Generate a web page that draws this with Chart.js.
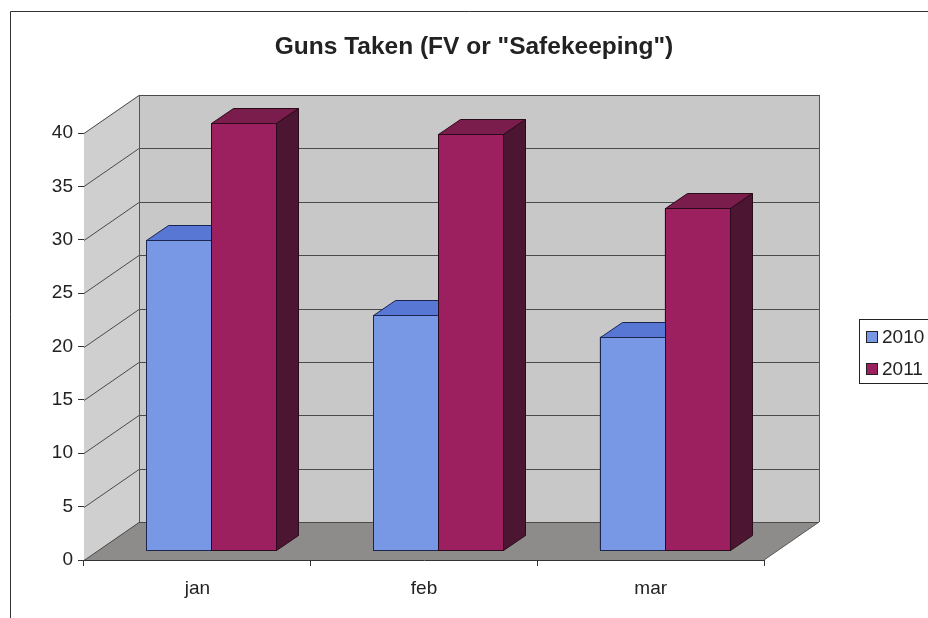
<!DOCTYPE html>
<html>
<head>
<meta charset="utf-8">
<script src="https://cdn.jsdelivr.net/npm/chart.js@4"></script>
<style>
    html, body { margin: 0; padding: 0; background: #fff; }
    #wrap { position: relative; width: 928px; height: 618px; }
</style>
</head>
<body>
<div id="wrap"><canvas id="chart" width="928" height="618"></canvas></div>
<script>
// Data
const months = ['jan', 'feb', 'mar'];
const series2010 = [29, 22, 20];
const series2011 = [40, 39, 32];
const seriesNames = ['2010', '2011'];
const yTicks = [0, 5, 10, 15, 20, 25, 30, 35, 40];
const chartTitle = 'Guns Taken (FV or "Safekeeping")';

// 3D look: wall depth and bar position inside it
const WALL = { dx: 55, dy: -38 };
const BAR_SHIFT = { dx: 14, dy: -10 };
const BAR_DEPTH = { dx: 22, dy: -15 };
const FONT = '"Liberation Sans", Arial, sans-serif';

const faces = [
    { front: '#7898e6', top: '#5877d4', side: '#3e58a8', edge: '#1c2450' },
    { front: '#9c1f5f', top: '#7a1c4c', side: '#4c1532', edge: '#2a0b1c' }
];

const walls3d = {
    id: 'walls3d',
    beforeDatasetsDraw(chart) {
        const { ctx, chartArea: a, scales: { y } } = chart;
        const { dx, dy } = WALL;
        ctx.save();
        // floor
        ctx.fillStyle = '#8e8c8b';
        ctx.beginPath();
        ctx.moveTo(a.left, a.bottom);
        ctx.lineTo(a.right, a.bottom);
        ctx.lineTo(a.right + dx, a.bottom + dy);
        ctx.lineTo(a.left + dx, a.bottom + dy);
        ctx.closePath();
        ctx.fill();
        // side wall
        ctx.fillStyle = '#d0cfcf';
        ctx.beginPath();
        ctx.moveTo(a.left, a.top);
        ctx.lineTo(a.left + dx, a.top + dy);
        ctx.lineTo(a.left + dx, a.bottom + dy);
        ctx.lineTo(a.left, a.bottom);
        ctx.closePath();
        ctx.fill();
        // back wall
        ctx.fillStyle = '#c9c8c8';
        ctx.fillRect(a.left + dx, a.top + dy, a.right - a.left, a.bottom - a.top);

        // gridlines on side and back wall
        ctx.strokeStyle = '#4a4a4a';
        ctx.lineWidth = 1;
        yTicks.forEach(v => {
            const py = Math.round(y.getPixelForValue(v)) + 0.5;
            ctx.beginPath();
            ctx.moveTo(a.left, py);
            ctx.lineTo(a.left + dx, py + dy);
            ctx.lineTo(a.right + dx, py + dy);
            ctx.stroke();
        });
        // wall edges
        ctx.strokeStyle = '#555';
        ctx.beginPath();
        ctx.moveTo(a.left + dx + 0.5, a.top + dy);
        ctx.lineTo(a.left + dx + 0.5, a.bottom + dy);
        ctx.moveTo(a.right + dx + 0.5, a.top + dy);
        ctx.lineTo(a.right + dx + 0.5, a.bottom + dy);
        ctx.moveTo(a.right, a.bottom);
        ctx.lineTo(a.right + dx, a.bottom + dy);
        ctx.stroke();
        ctx.restore();

        // the library's bar fronts sit a little inside the depth
        ctx.save();
        ctx.translate(BAR_SHIFT.dx, BAR_SHIFT.dy);
    },
    afterDatasetsDraw(chart) {
        // finish each bar as a box, series by series so 2011 covers 2010's side
        const { ctx } = chart;
        const { dx, dy } = BAR_DEPTH;
        ctx.lineWidth = 1;
        chart.data.datasets.forEach((ds, i) => {
            const f = faces[i];
            chart.getDatasetMeta(i).data.forEach(bar => {
                const { x, y, width, base } = bar.getProps(['x', 'y', 'width', 'base'], true);
                const l = Math.round(x - width / 2) + 0.5, r = Math.round(x + width / 2) + 0.5;
                const t = Math.round(y) + 0.5, b = Math.round(base) + 0.5;
                ctx.strokeStyle = f.edge;
                // front
                ctx.fillStyle = f.front;
                ctx.fillRect(l, t, r - l, b - t);
                ctx.strokeRect(l, t, r - l, b - t);
                // top face
                ctx.fillStyle = f.top;
                ctx.beginPath();
                ctx.moveTo(l, t);
                ctx.lineTo(l + dx, t + dy);
                ctx.lineTo(r + dx, t + dy);
                ctx.lineTo(r, t);
                ctx.closePath();
                ctx.fill();
                ctx.stroke();
                // side face
                ctx.fillStyle = f.side;
                ctx.beginPath();
                ctx.moveTo(r, t);
                ctx.lineTo(r + dx, t + dy);
                ctx.lineTo(r + dx, b + dy);
                ctx.lineTo(r, b);
                ctx.closePath();
                ctx.fill();
                ctx.stroke();
            });
        });
        ctx.restore();
    },
    afterDraw(chart) {
        const { ctx } = chart;
        ctx.save();
        // outer frame of the pasted chart
        ctx.strokeStyle = '#333';
        ctx.lineWidth = 1;
        ctx.beginPath();
        ctx.moveTo(10.5, 618);
        ctx.lineTo(10.5, 11.5);
        ctx.lineTo(928, 11.5);
        ctx.stroke();

        // title
        ctx.fillStyle = '#222';
        ctx.font = 'bold 24.5px ' + FONT;
        ctx.textAlign = 'center';
        ctx.textBaseline = 'middle';
        ctx.fillText(chartTitle, 474, 47);

        // legend
        ctx.strokeStyle = '#222';
        ctx.strokeRect(859.5, 319.5, 100, 64);
        ctx.font = '19px ' + FONT;
        ctx.textAlign = 'left';
        chart.data.datasets.forEach((ds, i) => {
            const cy = 337 + i * 32;
            ctx.fillStyle = faces[i].front;
            ctx.fillRect(866.5, cy - 5.5, 11, 11);
            ctx.strokeStyle = '#222';
            ctx.strokeRect(866.5, cy - 5.5, 11, 11);
            ctx.fillStyle = '#222';
            ctx.fillText(ds.label, 882, cy + 1);
        });
        ctx.restore();
    }
};

new Chart(document.getElementById('chart'), {
    type: 'bar',
    data: {
        labels: months,
        datasets: [
            { label: seriesNames[0], data: series2010, backgroundColor: faces[0].front, borderColor: faces[0].edge, borderWidth: 1 },
            { label: seriesNames[1], data: series2011, backgroundColor: faces[1].front, borderColor: faces[1].edge, borderWidth: 1 }
        ]
    },
    options: {
        responsive: false,
        animation: false,
        categoryPercentage: 0.574,
        barPercentage: 1,
        layout: { padding: { top: 133, right: 164, left: 0, bottom: 0 } },
        plugins: { legend: { display: false }, title: { display: false }, tooltip: { enabled: false } },
        scales: {
            x: {
                grid: { drawOnChartArea: false, drawTicks: true, tickLength: 6, color: '#333' },
                border: { display: true, color: '#333' },
                ticks: { color: '#222', padding: 11, font: { family: FONT, size: 19 } },
                afterFit(scale) { scale.height = 58; }
            },
            y: {
                min: 0, max: 40,
                afterBuildTicks(scale) { scale.ticks = yTicks.map(v => ({ value: v })); },
                grid: { drawOnChartArea: false, drawTicks: true, tickLength: 6, color: '#333' },
                border: { display: true, color: '#333' },
                ticks: { color: '#222', padding: 5, font: { family: FONT, size: 19 } },
                afterFit(scale) { scale.width = 84; }
            }
        }
    },
    plugins: [walls3d]
});
</script>
</body>
</html>
